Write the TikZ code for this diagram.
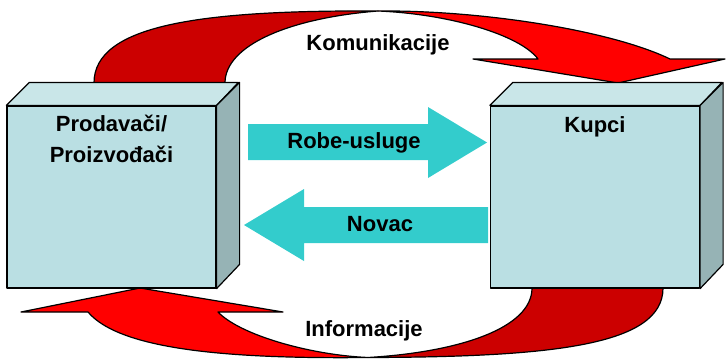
\documentclass[tikz,border=0pt]{standalone}
\usepackage{fontspec}
\setmainfont{Liberation Sans}

\definecolor{boxfront}{HTML}{BADFE3}
\definecolor{boxtop}{HTML}{C9E6E8}
\definecolor{boxside}{HTML}{96B3B5}
\definecolor{flowcyan}{HTML}{33CCCC}
\definecolor{ribbonred}{HTML}{FF0000}
\definecolor{ribbondark}{HTML}{CC0000}

\tikzstyle{face}=[draw=black, line width=1.2pt, line join=round]
\tikzstyle{box}=[face, fill=boxfront, minimum width=209pt, minimum height=182pt, inner sep=0pt]
\tikzstyle{ribbon}=[draw=black, line width=1.2pt, line join=round]
\tikzstyle{flow}=[fill=flowcyan]
\tikzstyle{caption}=[font=\bfseries\fontsize{22}{31}\selectfont, inner sep=0pt, align=center]

\begin{document}
\begin{tikzpicture}[x=1pt, y=-1pt]
    \useasboundingbox (0,0) rectangle (727,359);

    \coordinate (ktop) at (378,11);
    \coordinate (ibot) at (368,357.5);

    \draw[ribbon, fill=ribbondark] (94,83) .. controls (94,25) and (200,10) .. (ktop)
        .. controls (290,18) and (225,45) .. (225,83) -- cycle;
    \draw[ribbon, fill=ribbonred] (ktop) .. controls (480,10) and (610,30) .. (670,59)
        -- (725,59) -- (618,83) -- (473,59) -- (538,59)
        .. controls (520,35) and (450,14) .. (ktop) -- cycle;

    \draw[ribbon, fill=ribbondark] (663,288) .. controls (663,345) and (555,357) .. (ibot)
        .. controls (460,352) and (532,328) .. (532,288) -- cycle;
    \draw[ribbon, fill=ribbonred] (ibot) .. controls (230,359) and (120,350) .. (88,312)
        -- (21,312) -- (140,288) -- (283,312) -- (218,312)
        .. controls (240,335) and (310,355) .. (ibot) -- cycle;

    \node[box] (seller) at (111.5,197) {};
    \draw[face, fill=boxtop] (seller.north west) -- ++(23,-23) -- ++(209,0) -- (seller.north east) -- cycle;
    \draw[face, fill=boxside] (seller.north east) -- ++(23,-23) -- ++(0,182) -- (seller.south east) -- cycle;

    \node[box] (buyer) at (595,197) {};
    \draw[face, fill=boxtop] (buyer.north west) -- ++(23,-23) -- ++(209,0) -- (buyer.north east) -- cycle;
    \draw[face, fill=boxside] (buyer.north east) -- ++(23,-23) -- ++(0,182) -- (buyer.south east) -- cycle;

    \fill[flow] (248,124) -- (428,124) -- (428,107) -- (487,142.5) -- (428,178) -- (428,160) -- (248,160) -- cycle;
    \fill[flow] (488,207) -- (304,207) -- (304,189) -- (244,225) -- (304,261) -- (304,243) -- (488,243) -- cycle;

    \node[caption, anchor=north] (sellername) at (111.5,115) {Prodavači/\\Proizvođači};
    \node[caption, anchor=base] (buyername) at (595,132) {Kupci};
    \node[caption, anchor=base] (goods) at (354,148) {Robe-usluge};
    \node[caption, anchor=base] (money) at (380,231) {Novac};
    \node[caption, anchor=base] (comm) at (378,50) {Komunikacije};
    \node[caption, anchor=base] (info) at (364,336) {Informacije};
\end{tikzpicture}
\end{document}
